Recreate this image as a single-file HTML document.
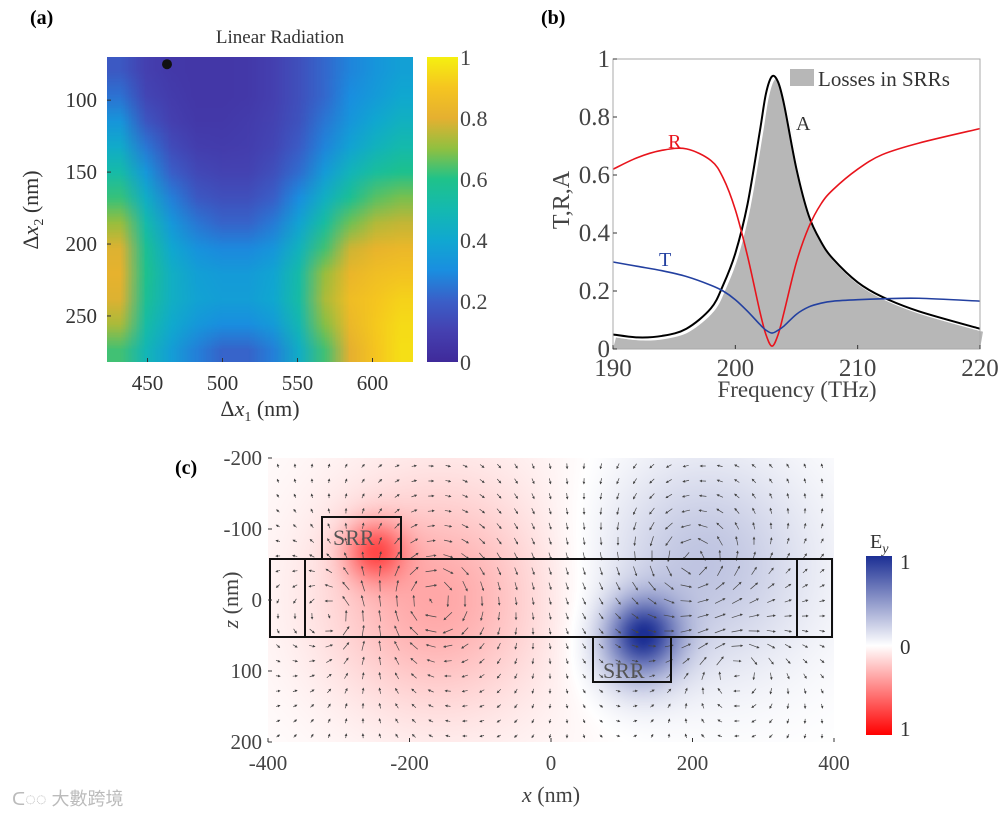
<!DOCTYPE html>
<html><head><meta charset="utf-8">
<style>
body{margin:0;background:#fff;width:1008px;height:816px;overflow:hidden;position:relative;font-family:"Liberation Serif",serif;}
canvas{position:absolute;}
svg{position:absolute;left:0;top:0;}
text{font-family:"Liberation Serif",serif;}
</style></head>
<body>
<canvas id="heat" style="left:107px;top:57px" width="306" height="305"></canvas>
<canvas id="field" style="left:268px;top:458px" width="566" height="284"></canvas>
<svg id="s" width="1008" height="816">
<defs>
<linearGradient id="parula" x1="0" y1="1" x2="0" y2="0">
<stop offset="0" stop-color="#3f2a9a"/><stop offset="0.1" stop-color="#4540b0"/>
<stop offset="0.2" stop-color="#3a5fc8"/><stop offset="0.3" stop-color="#1a8ee0"/>
<stop offset="0.4" stop-color="#10a8d0"/><stop offset="0.5" stop-color="#14b9b0"/>
<stop offset="0.6" stop-color="#1fc28a"/><stop offset="0.7" stop-color="#90c040"/>
<stop offset="0.8" stop-color="#e5b030"/><stop offset="0.9" stop-color="#f5c520"/>
<stop offset="1" stop-color="#f5f010"/></linearGradient>
<linearGradient id="bwr" x1="0" y1="0" x2="0" y2="1">
<stop offset="0" stop-color="#1c2f94"/><stop offset="0.5" stop-color="#ffffff"/><stop offset="1" stop-color="#ff0000"/></linearGradient>
<marker id="ah" markerWidth="4" markerHeight="4" refX="3" refY="2" orient="auto"><path d="M0,0L4,2L0,4z" fill="#444"/></marker>
</defs>
<g id="ga"></g><g id="gb"></g><g id="gc"></g>
</svg>
<div style="position:absolute;left:12px;top:785px;color:#bbb;font:18px 'Liberation Sans','Noto Sans CJK TC',sans-serif;">ᑕ◌◌ 大數跨境</div>
<script>
// ---------- data ----------
const heatX0=423, heatX1=627, heatY0=70, heatY1=282;
const heatValues=[
[0.18,0.1,0.07,0.06,0.06,0.07,0.1,0.15,0.22,0.28,0.33,0.37],
[0.24,0.12,0.08,0.06,0.06,0.07,0.1,0.15,0.22,0.3,0.35,0.4],
[0.33,0.17,0.1,0.07,0.07,0.08,0.11,0.16,0.25,0.33,0.4,0.45],
[0.42,0.25,0.14,0.09,0.08,0.09,0.12,0.19,0.28,0.38,0.46,0.51],
[0.52,0.34,0.2,0.13,0.11,0.11,0.15,0.23,0.35,0.47,0.55,0.59],
[0.62,0.43,0.27,0.18,0.15,0.15,0.2,0.3,0.44,0.57,0.65,0.68],
[0.71,0.51,0.34,0.25,0.21,0.21,0.26,0.38,0.54,0.67,0.74,0.76],
[0.79,0.57,0.4,0.32,0.29,0.29,0.33,0.46,0.63,0.77,0.82,0.84],
[0.81,0.59,0.44,0.37,0.35,0.35,0.39,0.52,0.71,0.83,0.87,0.89],
[0.79,0.57,0.44,0.38,0.36,0.36,0.4,0.53,0.73,0.86,0.9,0.93],
[0.73,0.53,0.41,0.34,0.3,0.3,0.35,0.49,0.69,0.84,0.91,0.95],
[0.63,0.48,0.36,0.27,0.21,0.21,0.27,0.43,0.63,0.8,0.9,0.96]];
const aXTicks=[450,500,550,600];
const aYTicks=[100,150,200,250];
const cbTicks=[0,0.2,0.4,0.6,0.8,1];
const cbLabels=["0","0.2","0.4","0.6","0.8","1"];
const dotPoint=[463,75];

const freq=[190,192,194,196,198,199,200,201,202,202.5,203,203.5,204,205,206,207,208,210,212,215,220];
const absA=[0.05,0.04,0.045,0.07,0.14,0.22,0.33,0.5,0.75,0.88,0.94,0.92,0.84,0.62,0.46,0.37,0.31,0.23,0.18,0.13,0.07];
const reflR=[0.62,0.66,0.685,0.69,0.65,0.59,0.48,0.32,0.13,0.05,0.01,0.05,0.13,0.3,0.42,0.5,0.55,0.62,0.67,0.71,0.76];
const transT=[0.3,0.285,0.27,0.25,0.22,0.2,0.17,0.13,0.085,0.065,0.055,0.065,0.08,0.12,0.145,0.158,0.165,0.17,0.173,0.175,0.165];
const bXTicks=[190,200,210,220];
const bYTicks=[0,0.2,0.4,0.6,0.8,1];
const bYLabels=["0","0.2","0.4","0.6","0.8","1"];

const blobX=[-250,-170,-120,130,210,120];
const blobZ=[-70,0,-30,45,-50,75];
const blobAmp=[-0.5,-0.25,-0.1,0.65,0.3,0.3];
const blobSig=[30,100,180,35,110,45];
const vortX=[-170,200,-300,260];
const vortZ=[0,-50,20,90];
const vortS=[1,-1,-0.6,0.6];
const cXTicks=[-400,-200,0,200,400];
const cZTicks=[-200,-100,0,100,200];

// ---------- helpers ----------
const NS="http://www.w3.org/2000/svg";
function el(parent,tag,attrs,txt){const e=document.createElementNS(NS,tag);for(const k in attrs)e.setAttribute(k,attrs[k]);if(txt!==undefined)e.textContent=txt;parent.appendChild(e);return e;}
const ga=document.getElementById('ga'),gb=document.getElementById('gb'),gc=document.getElementById('gc');
const PC=[[63,42,154],[69,64,176],[58,95,200],[26,142,224],[16,168,208],[20,185,176],[31,194,138],[144,192,64],[229,176,48],[245,197,32],[245,240,16]];
function parula(v){v=Math.max(0,Math.min(1,v))*10;const i=Math.min(9,Math.floor(v)),t=v-i;return PC[i].map((c,k)=>Math.round(c+(PC[i+1][k]-c)*t));}
function smooth(pts){let d='M'+pts[0][0]+','+pts[0][1];for(let i=0;i<pts.length-1;i++){const p0=pts[Math.max(0,i-1)],p1=pts[i],p2=pts[i+1],p3=pts[Math.min(pts.length-1,i+2)];
 d+='C'+(p1[0]+(p2[0]-p0[0])/6)+','+(p1[1]+(p2[1]-p0[1])/6)+' '+(p2[0]-(p3[0]-p1[0])/6)+','+(p2[1]-(p3[1]-p1[1])/6)+' '+p2[0]+','+p2[1];}return d;}

// ---------- panel a ----------
const ax=v=>107+(v-heatX0)/(heatX1-heatX0)*306, ay=v=>57+(v-heatY0)/(heatY1-heatY0)*305;
(function(){const n=heatValues.length,m=heatValues[0].length;
const small=document.createElement('canvas');small.width=m;small.height=n;const sc=small.getContext('2d');
const img=sc.createImageData(m,n);
heatValues.forEach((row,r)=>row.forEach((v,c)=>{const col=parula(v);const i=(r*m+c)*4;img.data[i]=col[0];img.data[i+1]=col[1];img.data[i+2]=col[2];img.data[i+3]=255;}));
sc.putImageData(img,0,0);
const ctx=document.getElementById('heat').getContext('2d');ctx.imageSmoothingEnabled=true;ctx.drawImage(small,0,0,306,305);})();
el(ga,'text',{x:30,y:24,'font-size':20,'font-weight':'bold',},'(a)');
el(ga,'text',{x:280,y:43,'font-size':19,'text-anchor':'middle',fill:'#333',},'Linear Radiation');
el(ga,'circle',{cx:ax(dotPoint[0]),cy:ay(dotPoint[1]),r:5,fill:'#111',});
aXTicks.forEach(t=>{el(ga,'line',{x1:ax(t),x2:ax(t),y1:362,y2:358,stroke:'#333'});
 el(ga,'text',{x:ax(t),y:390,'font-size':21,'text-anchor':'middle',fill:'#333',},t);});
aYTicks.forEach(t=>{el(ga,'line',{x1:107,x2:111,y1:ay(t),y2:ay(t),stroke:'#333'});
 el(ga,'text',{x:97,y:ay(t)+7,'font-size':21,'text-anchor':'end',fill:'#333',},t);});
el(ga,'text',{x:260,y:416,'font-size':22,'text-anchor':'middle',fill:'#333',}).innerHTML='Δ<tspan font-style="italic">x</tspan><tspan font-size="14" dy="5">1</tspan><tspan dy="-5"> (nm)</tspan>';
el(ga,'text',{x:0,y:0,'font-size':22,'text-anchor':'middle',fill:'#333',transform:'translate(38,210) rotate(-90)',}).innerHTML='Δ<tspan font-style="italic">x</tspan><tspan font-size="14" dy="5">2</tspan><tspan dy="-5"> (nm)</tspan>';
el(ga,'rect',{x:427,y:57,width:31,height:305,fill:'url(#parula)',});
cbTicks.forEach((t,i)=>{const y=362-t*305;el(ga,'text',{x:460,y:y+8,'font-size':22,fill:'#444',},cbLabels[i]);});

// ---------- panel b ----------
const bx=f=>613+(f-190)/30*367, by=v=>349-v*290;
el(gb,'text',{x:541,y:24,'font-size':20,'font-weight':'bold',},'(b)');
const ptsA=freq.map((f,i)=>[bx(f),by(absA[i])]);
el(gb,'path',{d:smooth(ptsA.map(p=>[p[0]+3,Math.min(349,p[1]+3)]))+'L'+bx(220)+','+by(0)+'L'+bx(190)+','+by(0)+'Z',fill:'#b7b7b7',});
el(gb,'path',{d:smooth(ptsA.map(p=>[p[0]+1.5,p[1]+1.5])),fill:'none',stroke:'#fff','stroke-width':2.5});
el(gb,'path',{d:smooth(ptsA),fill:'none',stroke:'#000','stroke-width':2,});
el(gb,'path',{d:smooth(freq.map((f,i)=>[bx(f),by(reflR[i])])),fill:'none',stroke:'#e8141c','stroke-width':1.6,});
el(gb,'path',{d:smooth(freq.map((f,i)=>[bx(f),by(transT[i])])),fill:'none',stroke:'#2340a0','stroke-width':1.6,});
el(gb,'rect',{x:613,y:59,width:367,height:290,fill:'none',stroke:'#aaa','stroke-width':1,});
bXTicks.forEach(t=>{el(gb,'line',{x1:bx(t),x2:bx(t),y1:349,y2:345,stroke:'#333'});
 el(gb,'text',{x:bx(t),y:376,'font-size':25,'text-anchor':'middle',fill:'#444',},t);});
bYTicks.forEach((t,i)=>{el(gb,'line',{x1:613,x2:617,y1:by(t),y2:by(t),stroke:'#333'});
 el(gb,'text',{x:610,y:by(t)+8,'font-size':25,'text-anchor':'end',fill:'#444',},bYLabels[i]);});
el(gb,'text',{x:797,y:397,'font-size':23,'text-anchor':'middle',fill:'#444',},'Frequency (THz)');
el(gb,'text',{x:0,y:0,'font-size':24,'text-anchor':'middle',fill:'#444',transform:'translate(569,200) rotate(-90)',},'T,R,A');
el(gb,'rect',{x:790,y:69,width:24,height:17,fill:'#b7b7b7',});
el(gb,'text',{x:818,y:86,'font-size':21,fill:'#333',},'Losses in SRRs');
el(gb,'text',{x:668,y:148,'font-size':20,fill:'#e8141c',},'R');
el(gb,'text',{x:659,y:266,'font-size':20,fill:'#2340a0',},'T');
el(gb,'text',{x:796,y:130,'font-size':20,fill:'#333',},'A');

// ---------- panel c ----------
const cx=v=>268+(v+400)/800*566, cz=v=>458+(v+200)/400*284;
(function(){const ctx=document.getElementById('field').getContext('2d');const W=566,H=284;const img=ctx.createImageData(W,H);
for(let j=0;j<H;j++)for(let i=0;i<W;i++){const x=-400+i/W*800,z=-200+j/H*400;let v=0;
 for(let k=0;k<blobX.length;k++){const dx=x-blobX[k],dz=z-blobZ[k];v+=blobAmp[k]*Math.exp(-(dx*dx+dz*dz)/(2*blobSig[k]*blobSig[k]));}
 v=Math.max(-1,Math.min(1,v));let r,g,b;
 if(v>=0){r=255+(28-255)*v;g=255+(47-255)*v;b=255+(148-255)*v;}else{const t=-v;r=255;g=255*(1-t);b=255*(1-t);}
 const p=(j*W+i)*4;img.data[p]=r;img.data[p+1]=g;img.data[p+2]=b;img.data[p+3]=255;}
ctx.putImageData(img,0,0);})();
const arrows=el(gc,'g',{});
for(let py=466;py<740;py+=15)for(let px=278;px<830;px+=17){
 const x=-400+(px-268)/566*800,z=-200+(py-458)/284*400;let u=0,w=0;
 for(let k=0;k<vortX.length;k++){const dx=x-vortX[k],dz=z-vortZ[k];const r2=dx*dx+dz*dz+900;u+=-vortS[k]*dz/r2*1000;w+=vortS[k]*dx/r2*1000;}
 const m=Math.hypot(u,w)||1;const L=Math.min(11,3+m*0.6);
 el(arrows,'line',{x1:px-u/m*L/2,y1:py-w/m*L/2,x2:px+u/m*L/2,y2:py+w/m*L/2,stroke:'#444','stroke-width':0.7,'marker-end':'url(#ah)'});}
const st={fill:'none',stroke:'#111','stroke-width':2};
el(gc,'rect',Object.assign({x:322,y:517,width:79,height:42,},st));
el(gc,'rect',Object.assign({x:270,y:559,width:562,height:78,},st));
el(gc,'line',{x1:305,x2:305,y1:559,y2:637,stroke:'#111','stroke-width':2});
el(gc,'line',{x1:797,x2:797,y1:559,y2:637,stroke:'#111','stroke-width':2});
el(gc,'rect',Object.assign({x:593,y:637,width:78,height:45,},st));
el(gc,'text',{x:333,y:545,'font-size':22,fill:'#555',},'SRR');
el(gc,'text',{x:603,y:678,'font-size':22,fill:'#555',},'SRR');
el(gc,'text',{x:175,y:474,'font-size':20,'font-weight':'bold',},'(c)');
cXTicks.forEach(t=>{el(gc,'line',{x1:cx(t),x2:cx(t),y1:742,y2:738,stroke:'#333'});
 el(gc,'text',{x:cx(t),y:770,'font-size':21,'text-anchor':'middle',fill:'#444',},t);});
cZTicks.forEach(t=>{el(gc,'line',{x1:268,x2:272,y1:cz(t),y2:cz(t),stroke:'#333'});
 el(gc,'text',{x:262,y:cz(t)+7,'font-size':21,'text-anchor':'end',fill:'#444',},t);});
el(gc,'text',{x:551,y:802,'font-size':22,'text-anchor':'middle',fill:'#444',}).innerHTML='<tspan font-style="italic">x</tspan> (nm)';
el(gc,'text',{x:0,y:0,'font-size':22,'text-anchor':'middle',fill:'#444',transform:'translate(238,600) rotate(-90)',}).innerHTML='<tspan font-style="italic">z</tspan> (nm)';
el(gc,'rect',{x:866,y:556,width:26,height:179,fill:'url(#bwr)',});
el(gc,'text',{x:870,y:548,'font-size':20,fill:'#333',}).innerHTML='E<tspan font-size="14" dy="5" font-style="italic">y</tspan>';
el(gc,'text',{x:900,y:569,'font-size':21,fill:'#333',},'1');
el(gc,'text',{x:900,y:654,'font-size':21,fill:'#333',},'0');
el(gc,'text',{x:900,y:736,'font-size':21,fill:'#333',},'1');
</script>
</body></html>
